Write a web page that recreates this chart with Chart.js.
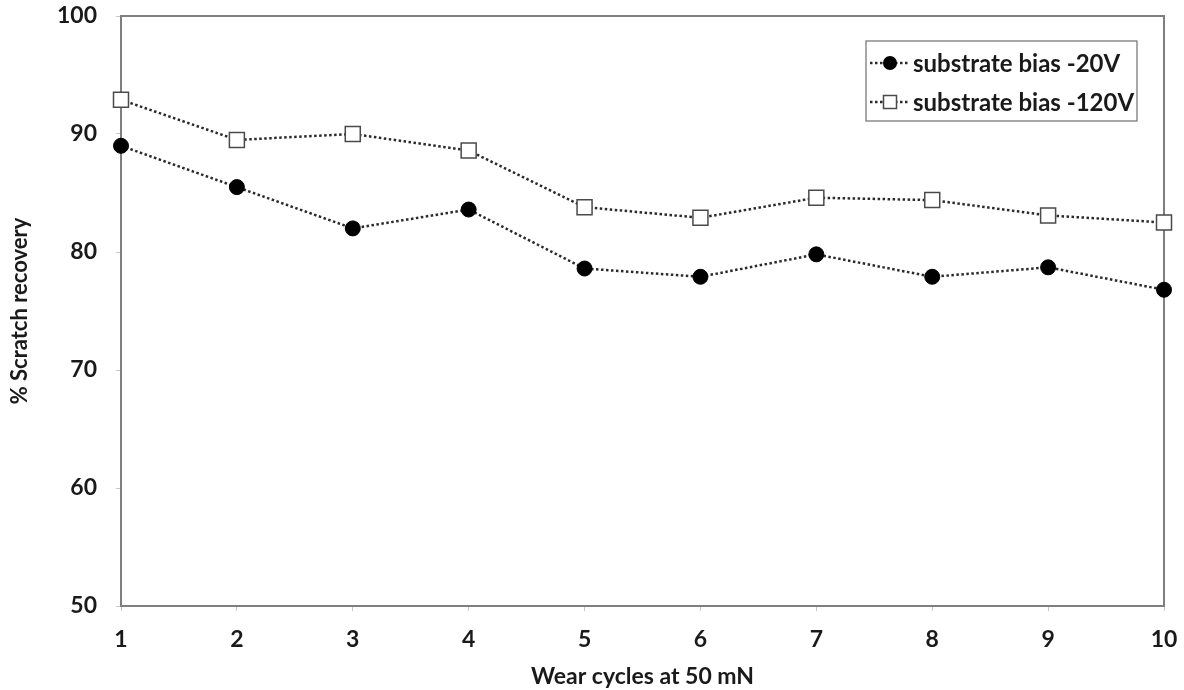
<!DOCTYPE html>
<html>
<head>
<meta charset="utf-8">
<script src="https://cdn.jsdelivr.net/npm/chart.js@4.4.1/dist/chart.umd.min.js"></script>
<style>
  html, body { margin: 0; padding: 0; background: #fff; }
  #wrap { width: 1184px; height: 690px; position: relative; }
</style>
</head>
<body>
<div id="wrap"><canvas id="c" width="1184" height="690"></canvas></div>
<script>
const cycles = ['1','2','3','4','5','6','7','8','9','10'];
const bias20 = [89.0, 85.5, 82.0, 83.6, 78.6, 77.9, 79.8, 77.9, 78.7, 76.8];
const bias120 = [92.9, 89.5, 90.0, 88.6, 83.8, 82.9, 84.6, 84.4, 83.1, 82.5];
const seriesNames = ['substrate bias -20V', 'substrate bias -120V'];
const yTicks = [50, 60, 70, 80, 90, 100];
const xTitle = 'Wear cycles at 50 mN';
const yTitle = '% Scratch recovery';

const FONT = 'Lato, "Open Sans", sans-serif';

const framePlugin = {
  id: 'frame',
  beforeDatasetsDraw(chart) {
    const {ctx, chartArea: a} = chart;
    ctx.save();
    ctx.strokeStyle = '#7f7f7f';
    ctx.lineWidth = 2;
    ctx.strokeRect(a.left, a.top, a.right - a.left, a.bottom - a.top);
    ctx.restore();
  }
};

const legendPlugin = {
  id: 'boxLegend',
  afterDraw(chart) {
    const {ctx, chartArea: a} = chart;
    const bx = a.right - 298, by = a.top + 25, bw = 271, bh = 80;
    ctx.save();
    ctx.strokeStyle = '#6f6f6f';
    ctx.lineWidth = 1.2;
    ctx.strokeRect(bx, by, bw, bh);
    chart.data.datasets.forEach((ds, i) => {
      const cy = by + 22 + i * 39;
      const mx = bx + 24;
      ctx.strokeStyle = ds.borderColor;
      ctx.lineWidth = 2.5;
      ctx.setLineDash([2.5, 2.5]);
      ctx.beginPath();
      ctx.moveTo(bx + 4, cy);
      ctx.lineTo(bx + 44, cy);
      ctx.stroke();
      ctx.setLineDash([]);
      if (ds.pointStyle === 'rect') {
        const s = 6.5;
        ctx.fillStyle = ds.pointBackgroundColor;
        ctx.fillRect(mx - s, cy - s, 2 * s, 2 * s);
        ctx.strokeStyle = ds.pointBorderColor;
        ctx.lineWidth = ds.pointBorderWidth;
        ctx.strokeRect(mx - s, cy - s, 2 * s, 2 * s);
      } else {
        ctx.fillStyle = ds.pointBackgroundColor;
        ctx.beginPath();
        ctx.arc(mx, cy, 7, 0, Math.PI * 2);
        ctx.fill();
      }
      ctx.fillStyle = '#1a1a1a';
      ctx.font = 'bold 24px ' + FONT;
      ctx.textBaseline = 'middle';
      ctx.textAlign = 'left';
      ctx.fillText(ds.label, bx + 47, cy + 1);
    });
    ctx.restore();
  }
};

new Chart(document.getElementById('c'), {
  type: 'line',
  data: {
    labels: cycles,
    datasets: [
      {
        label: seriesNames[0],
        data: bias20,
        borderColor: '#2a2a2a',
        borderWidth: 2.5,
        borderDash: [2.5, 2.5],
        pointStyle: 'circle',
        pointRadius: 7.5,
        pointBackgroundColor: '#000000',
        pointBorderColor: '#000000',
        pointBorderWidth: 1,
        fill: false,
        tension: 0,
        clip: false
      },
      {
        label: seriesNames[1],
        data: bias120,
        borderColor: '#2a2a2a',
        borderWidth: 2.5,
        borderDash: [2.5, 2.5],
        pointStyle: 'rect',
        pointRadius: 10.6,
        pointBackgroundColor: '#ffffff',
        pointBorderColor: '#4a4a4a',
        pointBorderWidth: 1.5,
        fill: false,
        tension: 0,
        clip: false
      }
    ]
  },
  options: {
    responsive: false,
    animation: false,
    layout: { padding: { left: 0, right: 20, top: 16, bottom: 0 } },
    plugins: { legend: { display: false }, tooltip: { enabled: false } },
    scales: {
      x: {
        type: 'category',
        offset: false,
        afterFit(s) { s.height = 84; s.paddingLeft = 0; s.paddingRight = 0; },
        grid: { drawOnChartArea: false, drawTicks: true, tickLength: 5, color: '#c8c8c8' },
        border: { display: false },
        ticks: { color: '#1a1a1a', font: { family: FONT, size: 23, weight: 'bold' }, padding: 15, maxRotation: 0 },
        title: { display: true, text: xTitle, color: '#1a1a1a', font: { family: FONT, size: 23, weight: 'bold' }, padding: { top: 0, bottom: 0 } }
      },
      y: {
        min: yTicks[0],
        max: yTicks[yTicks.length - 1],
        afterFit(s) { s.width = 121; s.paddingTop = 0; s.paddingBottom = 0; },
        afterBuildTicks(s) { s.ticks = yTicks.map(v => ({ value: v })); },
        grid: { drawOnChartArea: false, drawTicks: true, tickLength: 5, color: '#c8c8c8' },
        border: { display: false },
        ticks: { color: '#1a1a1a', font: { family: FONT, size: 23, weight: 'bold' }, padding: 19 },
        title: { display: true, text: yTitle, color: '#1a1a1a', font: { family: FONT, size: 22, weight: 'bold' }, padding: { top: 7, bottom: 0 } }
      }
    }
  },
  plugins: [framePlugin, legendPlugin]
});
</script>
</body>
</html>
